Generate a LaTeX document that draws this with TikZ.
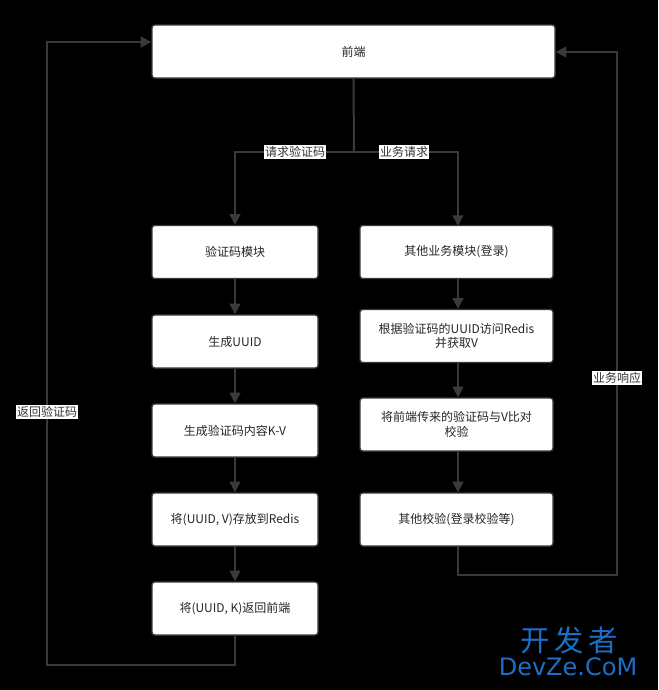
\documentclass[tikz,border=0pt]{standalone}
\usepackage{fontspec}
\newfontfamily\cjk{Noto Sans CJK SC}
\usetikzlibrary{arrows.meta}
\definecolor{ln}{HTML}{3A3A3A}
\definecolor{bd}{HTML}{36393D}
\definecolor{wm}{HTML}{1B6FC8}
\begin{document}
\begin{tikzpicture}[x=0.75pt,y=-0.75pt,font=\cjk\fontsize{9}{11}\selectfont,
 box/.style={draw=bd,line width=1pt,fill=white,rounded corners=2pt,align=center,text=black!85},
 con/.style={draw=ln,line width=1.5pt,-{Triangle[length=8pt,width=8pt]}},
 lab/.style={fill=white,inner sep=1pt,text=black!80}]
\fill[black] (0,0) rectangle (658,690);
\node[box,minimum width=403*0.75pt,minimum height=53*0.75pt] (fe) at (353.5,51.5) {前端};
\tikzset{lb/.style={box,minimum width=166*0.75pt,minimum height=53*0.75pt},
 rb/.style={box,minimum width=193*0.75pt,minimum height=53*0.75pt}}
\node[lb] (a1) at (235,252) {验证码模块};
\node[lb] (a2) at (235,341.5) {生成UUID};
\node[lb] (a3) at (235,430.5) {生成验证码内容K-V};
\node[lb] (a4) at (235,519.5) {将(UUID, V)存放到Redis};
\node[lb] (a5) at (235,608.5) {将(UUID, K)返回前端};
\node[rb] (b1) at (456.5,252) {其他业务模块(登录)};
\node[rb] (b2) at (456.5,336) {根据验证码的UUID访问Redis\\并获取V};
\node[rb] (b3) at (456.5,424.5) {将前端传来的验证码与V比对\\校验};
\node[rb] (b4) at (456.5,519.5) {其他校验(登录校验等)};
\coordinate (s) at (354,152);
\draw[ln,line width=1.5pt] (fe.south) -- (s);
\draw[con] (s) -- (235,152) -- (a1.north);
\draw[con] (s) -- (458,152) -- (458,226);
\node[lab] at (295,152) {请求验证码};
\node[lab] at (404,152) {业务请求};
\draw[con] (a1) -- (a2); \draw[con] (a2) -- (a3); \draw[con] (a3) -- (a4); \draw[con] (a4) -- (a5);
\draw[con] (b1.south -| 458,0) -- (b2.north -| 458,0);
\draw[con] (b2.south -| 458,0) -- (b3.north -| 458,0);
\draw[con] (b3.south -| 458,0) -- (b4.north -| 458,0);
\draw[con] (a5.south) -- (235,665) -- (47,665) -- (47,42) -- (fe.west |- 0,42);
\node[lab] at (47,412) {返回验证码};
\draw[con] (b4.south -| 458,0) -- (458,575) -- (617,575) -- (617,52) -- (fe.east |- 0,52);
\node[lab] at (617,378) {业务响应};
\node[text=wm,font=\cjk\fontsize{22}{22}\selectfont] (w1) at (569,640) {开\,发\,者};
\node[text=wm,font=\fontspec{DejaVu Sans}\fontsize{18}{18}\selectfont,inner sep=0pt] (w2) at (568,667) {DevZe.CoM};
\end{tikzpicture}
\end{document}
